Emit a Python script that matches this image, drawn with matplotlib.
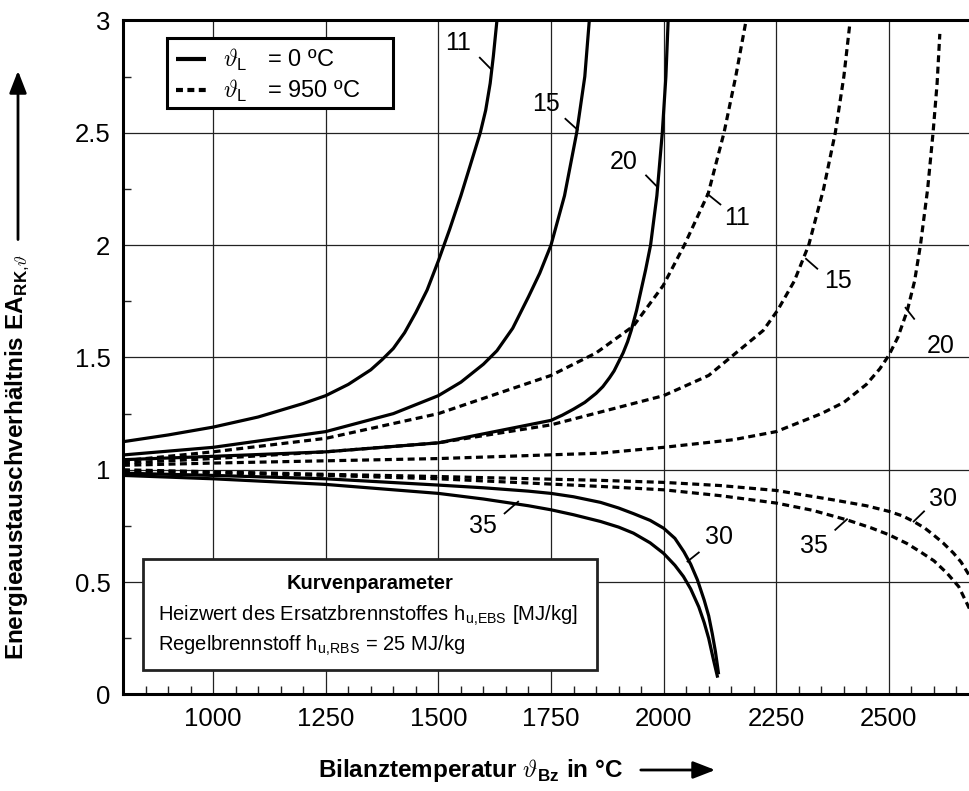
import matplotlib
matplotlib.use('Agg')
import matplotlib.pyplot as plt
from matplotlib.ticker import MultipleLocator
from matplotlib.patches import Rectangle, FancyArrowPatch

plt.rcParams['font.family'] = ['Liberation Sans', 'DejaVu Sans']
plt.rcParams['mathtext.fontset'] = 'custom'
plt.rcParams['mathtext.rm'] = 'Liberation Sans'
plt.rcParams['mathtext.it'] = 'cmmi10'
plt.rcParams['mathtext.bf'] = 'Liberation Sans:bold'
plt.rcParams['lines.scale_dashes'] = False

# --- data ---------------------------------------------------------------
# theta_L = 0 degC (solid)
x_s11 = [800, 900, 1000, 1100, 1200, 1250, 1300, 1350, 1375, 1400, 1425, 1450, 1475, 1500,
         1525, 1550, 1570, 1593, 1605, 1615, 1622, 1630]
y_s11 = [1.125, 1.155, 1.19, 1.235, 1.295, 1.33, 1.38, 1.445, 1.49, 1.54, 1.61, 1.70, 1.80, 1.93,
         2.07, 2.22, 2.35, 2.5, 2.6, 2.72, 2.84, 3.0]
x_s15 = [800, 1000, 1250, 1400, 1500, 1550, 1600, 1630, 1665, 1700, 1725, 1750, 1780, 1807, 1825, 1835]
y_s15 = [1.066, 1.10, 1.17, 1.25, 1.33, 1.39, 1.47, 1.53, 1.63, 1.77, 1.875, 2.0, 2.22, 2.5, 2.75, 3.0]
x_s20 = [800, 1000, 1250, 1500, 1750, 1775, 1800, 1825, 1850, 1865, 1880, 1890, 1900, 1910,
         1920, 1928, 1940, 1950, 1960, 1971, 1985, 1997, 2005, 2010]
y_s20 = [1.045, 1.06, 1.08, 1.12, 1.22, 1.243, 1.27, 1.30, 1.34, 1.37, 1.41, 1.44, 1.48, 1.52,
         1.57, 1.62, 1.71, 1.80, 1.89, 2.0, 2.22, 2.5, 2.75, 3.0]
x_s30 = [800, 1000, 1250, 1500, 1600, 1700, 1750, 1800, 1860, 1900, 1933, 1970, 2000, 2025,
         2045, 2060, 2075, 2090, 2100, 2108, 2115, 2120, 2122]
y_s30 = [0.985, 0.975, 0.96, 0.932, 0.92, 0.905, 0.895, 0.88, 0.855, 0.83, 0.805, 0.775, 0.74, 0.695,
         0.635, 0.58, 0.51, 0.42, 0.35, 0.27, 0.19, 0.12, 0.09]
x_s35 = [800, 1000, 1250, 1500, 1600, 1700, 1750, 1800, 1860, 1900, 1933, 1970, 2000, 2025,
         2044, 2060, 2078, 2090, 2100, 2110, 2117, 2120]
y_s35 = [0.975, 0.96, 0.935, 0.895, 0.87, 0.84, 0.822, 0.80, 0.77, 0.745, 0.718, 0.675, 0.628, 0.575,
         0.525, 0.47, 0.39, 0.32, 0.25, 0.16, 0.10, 0.075]

# theta_L = 950 degC (dashed)
x_d11 = [800, 1000, 1250, 1500, 1750, 1850, 1933, 1999, 2046, 2099, 2134, 2160, 2183]
y_d11 = [1.04, 1.08, 1.14, 1.25, 1.42, 1.52, 1.64, 1.82, 2.0, 2.23, 2.5, 2.75, 3.0]
x_d15 = [800, 1000, 1250, 1500, 1750, 2000, 2100, 2221, 2253, 2290, 2322, 2355, 2381, 2400, 2413]
y_d15 = [1.03, 1.05, 1.08, 1.12, 1.20, 1.33, 1.42, 1.62, 1.71, 1.84, 2.0, 2.25, 2.5, 2.75, 2.98]
x_d20 = [800, 1000, 1500, 1860, 2000, 2155, 2250, 2350, 2400, 2450, 2480, 2500, 2520, 2541,
         2557, 2570, 2586, 2598, 2607, 2613]
y_d20 = [1.02, 1.03, 1.05, 1.074, 1.10, 1.134, 1.17, 1.25, 1.30, 1.38, 1.45, 1.51, 1.59, 1.71,
         1.84, 2.0, 2.25, 2.5, 2.72, 2.94]
x_d30 = [800, 1250, 1500, 1860, 2000, 2125, 2250, 2377, 2450, 2500, 2530, 2555, 2580, 2599,
         2620, 2643, 2660, 2680]
y_d30 = [1.0, 0.98, 0.97, 0.953, 0.944, 0.93, 0.908, 0.866, 0.84, 0.815, 0.795, 0.77, 0.74, 0.71,
         0.675, 0.63, 0.59, 0.525]
x_d35 = [800, 1250, 1500, 1860, 2000, 2125, 2250, 2330, 2407, 2460, 2500, 2540, 2569, 2600,
         2629, 2655, 2680]
y_d35 = [0.995, 0.975, 0.96, 0.926, 0.911, 0.885, 0.852, 0.82, 0.777, 0.742, 0.711, 0.672, 0.636, 0.595,
         0.54, 0.48, 0.377]

# curve labels: text, text x, text y, leader (x0, y0, x1, y1)
curve_labels = [
    ('11', 1543, 2.90, (1592, 2.834, 1616, 2.785)),
    ('15', 1738, 2.63, (1782, 2.562, 1809, 2.513)),
    ('20', 1912, 2.37, (1961, 2.31, 1985, 2.261)),
    ('11', 2164, 2.12, (2097, 2.228, 2126, 2.181)),
    ('15', 2386, 1.84, (2316, 1.939, 2341, 1.895)),
    ('20', 2615, 1.55, (2537, 1.721, 2556, 1.672)),
    ('35', 1599, 0.75, (1647, 0.806, 1677, 0.858)),
    ('30', 2122, 0.70, (2053, 0.592, 2078, 0.632)),
    ('35', 2333, 0.66, (2381, 0.733, 2407, 0.78)),
    ('30', 2621, 0.87, (2555, 0.77, 2578, 0.815)),
]

x_ticks = [1000, 1250, 1500, 1750, 2000, 2250, 2500]
y_ticks = [0, 0.5, 1, 1.5, 2, 2.5, 3]
y_ticklabels = ['0', '0.5', '1', '1.5', '2', '2.5', '3']

solid = [(x_s11, y_s11), (x_s15, y_s15), (x_s20, y_s20), (x_s30, y_s30), (x_s35, y_s35)]
dashed = [(x_d11, y_d11), (x_d15, y_d15), (x_d20, y_d20), (x_d30, y_d30), (x_d35, y_d35)]

fig = plt.figure(figsize=(9.7, 7.91), dpi=100)
ax = fig.add_axes([0.1268, 0.122, 0.8732, 0.8522])

ax.set_xlim(800, 2680)
ax.set_ylim(0, 3)

dash = (0, (5.0, 3.2))
for i, (xs, ys) in enumerate(solid):
    ax.plot(xs, ys, color='black', lw=2.3, solid_capstyle='butt', solid_joinstyle='round',
            label=r'$\vartheta_\mathrm{L}$   = 0 ºC' if i == 0 else None, zorder=3)
for i, (xs, ys) in enumerate(dashed):
    ax.plot(xs, ys, color='black', lw=2.3, linestyle=dash, dash_capstyle='butt',
            label=r'$\vartheta_\mathrm{L}$   = 950 ºC' if i == 0 else None, zorder=3)

for txt, tx, ty, (x0, y0, x1, y1) in curve_labels:
    ax.text(tx, ty, txt, fontsize=18, ha='center', va='center', zorder=4)
    ax.plot([x0, x1], [y0, y1], color='black', lw=1.3, zorder=4)

# grid + spines
ax.set_xticks(x_ticks)
ax.set_xticklabels([str(v) for v in x_ticks], fontsize=18.5)
ax.set_yticks(y_ticks)
ax.set_yticklabels(y_ticklabels, fontsize=18.5)
ax.xaxis.set_minor_locator(MultipleLocator(50))
ax.yaxis.set_minor_locator(MultipleLocator(0.25))
ax.grid(which='major', color='#222222', lw=0.9)
ax.tick_params(which='major', direction='in', length=0, pad=9)
ax.tick_params(which='minor', direction='in', length=6, width=1.0, color='#222222')
ax.spines['right'].set_visible(False)
for s in ['left', 'bottom', 'top']:
    ax.spines[s].set_linewidth(2.2)

# legend frame drawn as its own box, legend entries inside it
leg_box = Rectangle((0.052, 0.870), 0.267, 0.104, transform=ax.transAxes,
                    facecolor='white', edgecolor='black', lw=2.2, zorder=5)
ax.add_patch(leg_box)
leg = ax.legend(loc='upper left', bbox_to_anchor=(0.052, 0.974), fontsize=17,
                frameon=False, handlelength=1.25, handletextpad=0.7, labelspacing=0.2,
                borderpad=0.4, borderaxespad=0)
leg.set_zorder(6)
for h in leg.get_lines():
    h.set_linewidth(3.0)

# parameter box
box = Rectangle((0.0236, 0.0363), 0.536, 0.1647, transform=ax.transAxes,
                facecolor='white', edgecolor='#222222', lw=2.0, zorder=5)
ax.add_patch(box)
ax.text(0.0236 + 0.268, 0.165, 'Kurvenparameter', transform=ax.transAxes,
        fontsize=14.5, fontweight='bold', ha='center', va='center', zorder=6)
ax.text(0.041, 0.117, r'Heizwert des Ersatzbrennstoffes h$_\mathrm{u{,}EBS}$ [MJ/kg]',
        transform=ax.transAxes, fontsize=14.5, ha='left', va='center', zorder=6)
ax.text(0.041, 0.072, r'Regelbrennstoff h$_\mathrm{u{,}RBS}$ = 25 MJ/kg',
        transform=ax.transAxes, fontsize=14.5, ha='left', va='center', zorder=6)

# axis titles with arrows (figure pixel coords)
W, H = 970.0, 791.0
ylab = fig.text(18 / W, 1 - 660 / H, r'Energieaustauschverhältnis EA$_{\mathbf{RK}{,}\vartheta}$',
                rotation=90, fontsize=17.5, fontweight='bold', ha='center', va='bottom')
xlab = fig.text(318 / W, 1 - 770 / H, r'Bilanztemperatur $\vartheta_{\mathbf{Bz}}$ in °C',
                fontsize=17.5, fontweight='bold', ha='left', va='center')
fig.canvas.draw()
r = fig.canvas.get_renderer()
yb = ylab.get_window_extent(r)
xb = xlab.get_window_extent(r)
top_px = yb.y1 + 12
fig.add_artist(FancyArrowPatch(
    (18 / W, top_px / H), (18 / W, 1 - 68 / H), transform=fig.transFigure,
    arrowstyle='-|>,head_length=9,head_width=3.5', lw=2, color='black', mutation_scale=1.5))
right_px = xb.x1 + 15
fig.add_artist(FancyArrowPatch(
    (right_px / W, 1 - 770 / H), ((right_px + 80) / W, 1 - 770 / H), transform=fig.transFigure,
    arrowstyle='-|>,head_length=9,head_width=3.5', lw=2, color='black', mutation_scale=1.5))

fig.savefig('out.png', dpi=100)
plt.close()
